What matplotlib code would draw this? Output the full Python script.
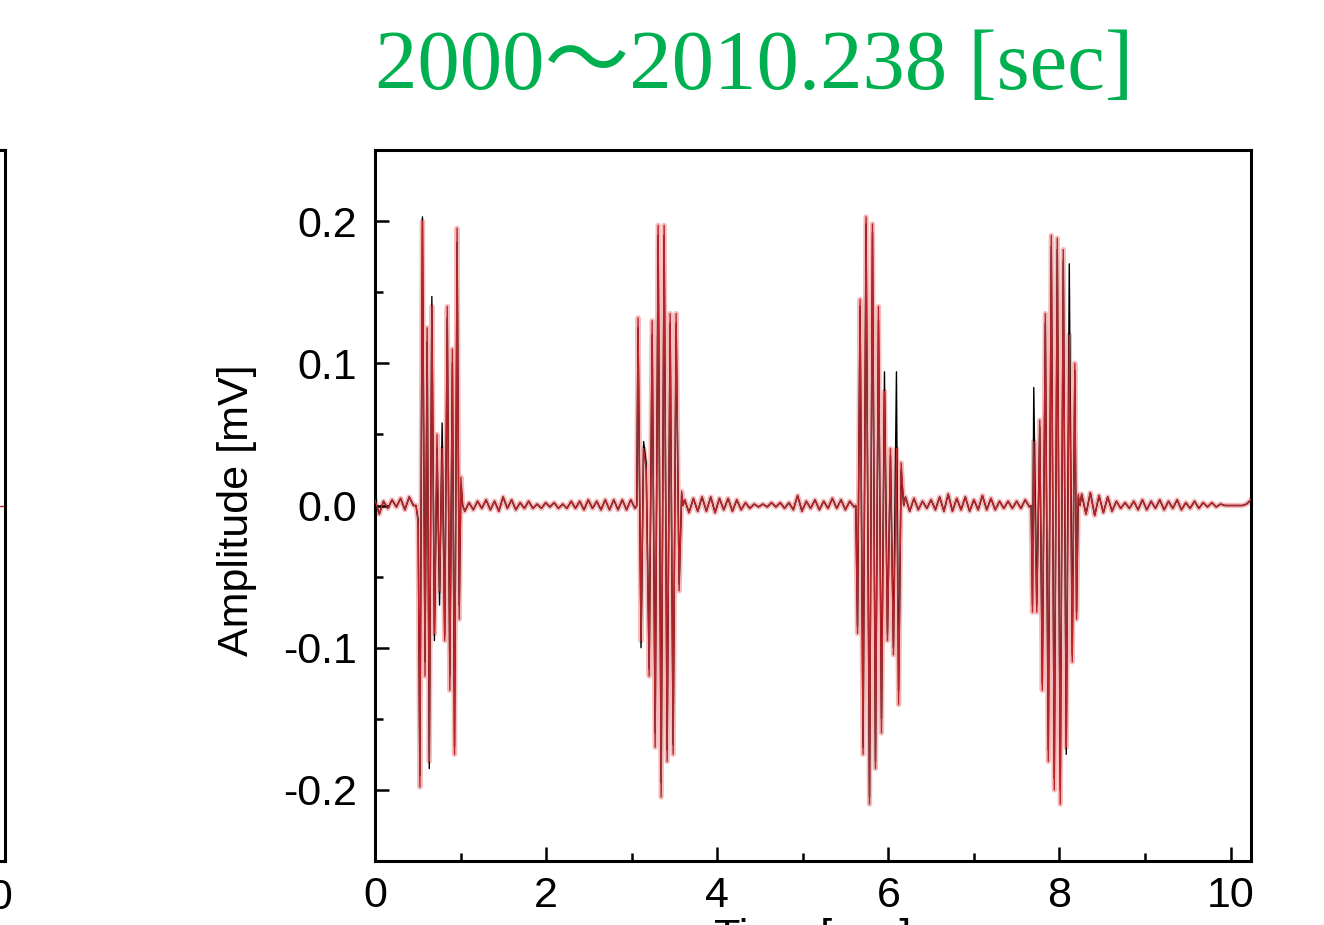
import numpy as np
import matplotlib.pyplot as plt
from matplotlib.ticker import MultipleLocator, FormatStrFormatter

plt.rcParams['axes.unicode_minus'] = False

TITLE = '2000\uff5e2010.238 [sec]'
X_LABEL = 'Time [sec]'
Y_LABEL = 'Amplitude [mV]'
Y_TICKS = [-0.2, -0.1, 0.0, 0.1, 0.2]
X_TICKS = [0, 2, 4, 6, 8, 10]
T_END = 10.238

# quiet stretches between bursts: (start, end, ripple values)
quiet_a = (0.00, 0.45, [0.004, -0.006, 0.003, -0.002, 0.004, -0.001, 0.005, -0.003, 0.006, 0.000])
quiet_b = (1.05, 3.04, [-0.004, 0.002, -0.003, 0.003, -0.002, 0.004, -0.003, 0.003, -0.004, 0.006,
                        -0.002, 0.004, -0.003, 0.002, -0.002, 0.003, -0.002, 0.001, -0.002, 0.002,
                        -0.001, 0.002, -0.002, 0.001, -0.002, 0.003, -0.002, 0.003, -0.003, 0.004,
                        -0.002, 0.003, -0.003, 0.004, -0.003, 0.004, -0.003, 0.004, -0.003, 0.004,
                        -0.002])
quiet_c = (3.62, 5.60, [0.004, -0.005, 0.005, -0.004, 0.006, -0.004, 0.006, -0.005, 0.005, -0.003,
                        0.005, -0.004, 0.004, -0.003, 0.002, -0.002, 0.001, -0.001, 0.001, -0.001,
                        0.002, -0.001, 0.002, -0.002, 0.002, -0.003, 0.007, -0.004, 0.003, -0.002,
                        0.004, -0.003, 0.003, -0.002, 0.005, -0.002, 0.004, -0.003, 0.003, -0.001])
quiet_d = (6.20, 7.65, [0.006, -0.004, 0.005, -0.003, 0.003, -0.002, 0.004, -0.003, 0.006, -0.004,
                        0.008, -0.004, 0.005, -0.003, 0.006, -0.004, 0.004, -0.003, 0.007, -0.003,
                        0.005, -0.003, 0.003, -0.002, 0.003, -0.002, 0.003, -0.002, 0.004, -0.001])
quiet_e = (8.26, T_END, [0.008, -0.006, 0.009, -0.007, 0.007, -0.005, 0.006, -0.004, 0.003, -0.002,
                         0.002, -0.002, 0.003, -0.003, 0.004, -0.003, 0.003, -0.002, 0.004, -0.003,
                         0.003, -0.002, 0.004, -0.003, 0.002, -0.002, 0.003, -0.002, 0.002, -0.001,
                         0.002, -0.001, 0.001, 0.000, 0.000, 0.000, 0.000, 0.000, 0.001, 0.004])

# burst peaks, red trace
red_b1_t = [0.480, 0.505, 0.525, 0.555, 0.585, 0.610, 0.635, 0.665, 0.695, 0.725, 0.755,
            0.785, 0.815, 0.845, 0.875, 0.905, 0.930, 0.960, 0.985, 1.005, 1.025]
red_b1_v = [0.000, -0.012, -0.198, 0.200, -0.120, 0.125, -0.180, 0.140, -0.090, 0.050, -0.060,
            0.040, -0.095, 0.140, -0.130, 0.110, -0.175, 0.195, -0.080, 0.020, 0.000]
red_b2_t = [3.060, 3.075, 3.110, 3.140, 3.170, 3.205, 3.240, 3.275, 3.310, 3.345, 3.380,
            3.415, 3.450, 3.485, 3.520, 3.555, 3.585, 3.600]
red_b2_v = [0.000, 0.132, -0.095, 0.040, 0.025, -0.120, 0.130, -0.170, 0.197, -0.205, 0.197,
            -0.180, 0.135, -0.175, 0.135, -0.060, 0.010, 0.000]
red_b3_t = [5.620, 5.640, 5.670, 5.705, 5.740, 5.780, 5.815, 5.850, 5.885, 5.920, 5.955,
            5.990, 6.025, 6.060, 6.095, 6.120, 6.150, 6.180]
red_b3_v = [0.000, -0.090, 0.145, -0.175, 0.203, -0.210, 0.198, -0.185, 0.140, -0.160, 0.080,
            -0.095, 0.040, -0.105, 0.040, -0.140, 0.030, 0.000]
red_b4_t = [7.670, 7.685, 7.700, 7.735, 7.770, 7.800, 7.835, 7.870, 7.905, 7.940, 7.975,
            8.010, 8.045, 8.080, 8.115, 8.150, 8.180, 8.200, 8.220, 8.240]
red_b4_v = [0.000, -0.075, 0.045, -0.075, 0.060, -0.130, 0.135, -0.180, 0.190, -0.200, 0.188,
            -0.210, 0.180, -0.170, 0.120, -0.110, 0.100, -0.080, 0.008, 0.000]

# burst peaks, black trace
blk_b1_v = [0.000, -0.010, -0.190, 0.203, -0.110, 0.115, -0.185, 0.147, -0.095, 0.040, -0.070,
            0.058, -0.092, 0.132, -0.120, 0.100, -0.170, 0.185, -0.070, 0.015, 0.000]
blk_b2_v = [0.000, 0.125, -0.100, 0.045, 0.030, -0.115, 0.120, -0.160, 0.190, -0.195, 0.190,
            -0.172, 0.128, -0.168, 0.128, -0.055, 0.008, 0.000]
blk_b3_v = [0.000, -0.085, 0.140, -0.170, 0.198, -0.205, 0.192, -0.180, 0.130, -0.150, 0.094,
            -0.090, 0.035, -0.100, 0.094, -0.130, 0.025, 0.000]
blk_b4_v = [0.000, -0.070, 0.083, -0.070, 0.055, -0.125, 0.128, -0.172, 0.182, -0.192, 0.180,
            -0.200, 0.172, -0.175, 0.170, -0.105, 0.095, -0.075, 0.006, 0.000]

# tail of the neighbouring panel
left_t = [9.6, 10.2]
left_v = [0.0, 0.0]


def quiet(seg):
    start, end, vals = seg
    return np.linspace(start, end, len(vals)), np.array(vals)


def trace(bursts):
    parts_t, parts_v = [], []
    quiets = [quiet_a, quiet_b, quiet_c, quiet_d, quiet_e]
    for i, q in enumerate(quiets):
        qt, qv = quiet(q)
        parts_t.append(qt)
        parts_v.append(qv)
        if i < len(bursts):
            parts_t.append(np.array(bursts[i][0]))
            parts_v.append(np.array(bursts[i][1]))
    return np.concatenate(parts_t), np.concatenate(parts_v)


t_red, v_red = trace([(red_b1_t, red_b1_v), (red_b2_t, red_b2_v),
                      (red_b3_t, red_b3_v), (red_b4_t, red_b4_v)])
t_blk, v_blk = trace([(red_b1_t, blk_b1_v), (red_b2_t, blk_b2_v),
                      (red_b3_t, blk_b3_v), (red_b4_t, blk_b4_v)])

fig = plt.figure(figsize=(13.24, 9.25), dpi=100)
ax = fig.add_axes([0.2832, 0.0692, 0.6616, 0.7686])
ax_left = fig.add_axes([-0.600, 0.0692, 0.6038, 0.7686])

sans = ['Liberation Sans', 'DejaVu Sans']
tick_fs = 31

for a in (ax, ax_left):
    for s in a.spines.values():
        s.set_linewidth(2.2)

# neighbouring panel, only its right edge shows
ax_left.plot(left_t, left_v, color='#b5262b', lw=1.0)
ax_left.set_xlim(0, 10.2)
ax_left.set_ylim(-0.25, 0.25)
ax_left.set_xticks([10])
ax_left.set_xticklabels(['10'], fontsize=tick_fs, family=sans)
ax_left.set_yticks([])
ax_left.tick_params(axis='x', direction='in', length=0, pad=12)

# main panel: pale halo, black trace, red trace on top
ax.plot(t_red, v_red, color='#f4bcbc', lw=3.8, zorder=1)
ax.plot(t_blk, v_blk, color='black', lw=1.0, zorder=2)
ax.plot(t_red, v_red, color='#b5262b', lw=1.0, zorder=3)

ax.set_xlim(0, T_END)
ax.set_ylim(-0.25, 0.25)
ax.set_xticks(X_TICKS)
ax.set_yticks(Y_TICKS)
ax.xaxis.set_minor_locator(MultipleLocator(1))
ax.yaxis.set_minor_locator(MultipleLocator(0.05))
ax.yaxis.set_major_formatter(FormatStrFormatter('%.1f'))
ax.tick_params(which='both', direction='in', width=1.8, top=False, right=False)
ax.tick_params(which='major', length=10)
ax.tick_params(which='minor', length=6)
ax.tick_params(axis='x', which='major', pad=11)
ax.tick_params(axis='y', which='major', pad=13)
for lab in ax.get_xticklabels() + ax.get_yticklabels():
    lab.set_fontsize(tick_fs)
    lab.set_family(sans)

ax.set_xlabel(X_LABEL, fontsize=tick_fs, family=sans)
ax.xaxis.set_label_coords(0.5, -0.080)
ax.set_ylabel(Y_LABEL, fontsize=tick_fs, family=sans)
ax.yaxis.set_label_coords(-0.135, 0.494)

fig.text(0.5695, 0.9038, TITLE, color='#00b050', fontsize=61,
         family=['Liberation Serif', 'Noto Sans CJK JP'], ha='center', va='baseline')

fig.savefig('out.png', dpi=100)
